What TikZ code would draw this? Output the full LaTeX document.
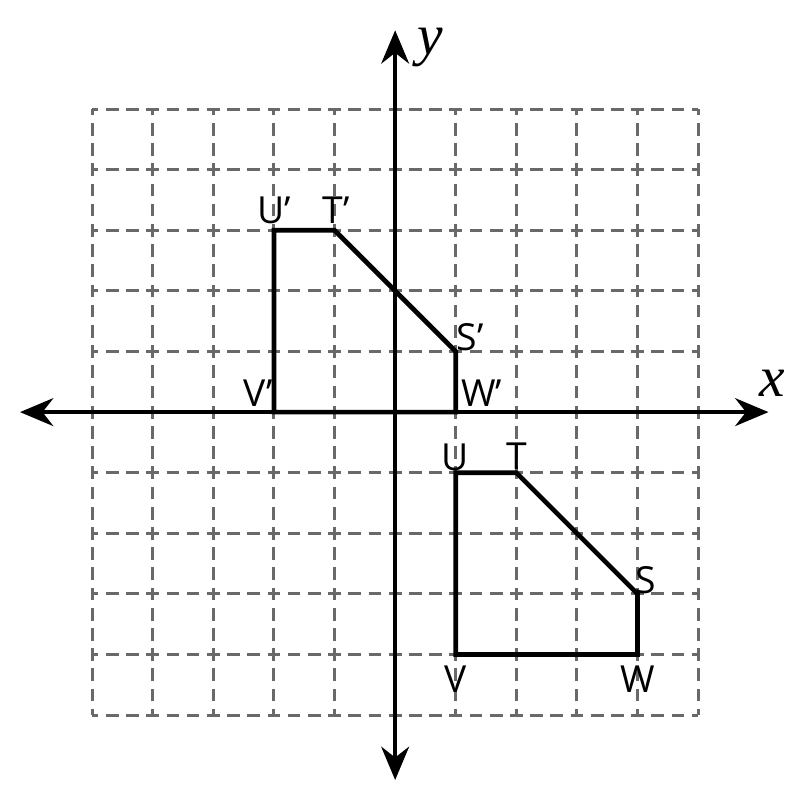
\documentclass[tikz,border=0pt]{standalone}
\usepackage{fontspec}
\setmainfont{Open Sans}
\newfontfamily\axfont{Liberation Serif}
\usetikzlibrary{arrows.meta,positioning}
\definecolor{gridgray}{RGB}{105,105,105}

\begin{document}
\begin{tikzpicture}[
  gridline/.style={gridgray,line width=1.4pt,dash pattern=on 0.21cm off 0.1233cm,dash phase=0.105cm},
  axis/.style={line width=1.7pt,{Stealth[length=0.55cm,width=0.46cm]}-{Stealth[length=0.55cm,width=0.46cm]}},
  figline/.style={line width=2.2pt,line join=miter},
  vlabel/.style={font=\fontsize{17.5}{20}\selectfont,inner sep=0pt},
  axlabel/.style={font=\axfont\itshape\fontsize{27}{30}\selectfont,inner sep=0pt}
]
  \useasboundingbox (-6.52,-6.40) rectangle (6.68,6.80);

  % Grid and axes
  \foreach \x in {-5,...,5} \draw[gridline] (\x,-5) -- (\x,5);
  \foreach \y in {-5,...,5} \draw[gridline] (-5,\y) -- (5,\y);
  \coordinate (xl) at (-6.19,0);
  \coordinate (xr) at (6.16,0);
  \coordinate (yb) at (0,-6.07);
  \coordinate (yt) at (0,6.30);
  \draw[axis] (xl) -- (xr);
  \draw[axis] (yb) -- (yt);
  \node[axlabel] (xlab) at (6.22,0.47) {x};
  \node[axlabel] (ylab) at (0.58,6.02) {y};

  % Image figure S'T'U'V'W'
  \coordinate (Up) at (-2,3);
  \coordinate (Tp) at (-1,3);
  \coordinate (Sp) at (1,1);
  \coordinate (Wp) at (1,0);
  \coordinate (Vp) at (-2,0);
  \draw[figline] (Up) -- (Tp) -- (Sp) -- (Wp) -- (Vp) -- cycle;

  % Original figure STUVW
  \coordinate (U) at (1,-1);
  \coordinate (T) at (2,-1);
  \coordinate (S) at (4,-3);
  \coordinate (W) at (4,-4);
  \coordinate (V) at (1,-4);
  \draw[figline] (U) -- (T) -- (S) -- (W) -- (V) -- cycle;

  % Labels
  \node[vlabel] (lUp) at (-2.0,3.33) {U’};
  \node[vlabel] (lTp) at (-0.97,3.33) {T’};
  \node[vlabel] (lSp) at (1.24,1.24) {S’};
  \node[vlabel] (lWp) at (1.43,0.31) {W’};
  \node[vlabel] (lVp) at (-2.26,0.31) {V’};
  \node[vlabel] (lU) at (0.99,-0.74) {U};
  \node[vlabel] (lT) at (2.0,-0.72) {T};
  \node[vlabel] (lS) at (4.13,-2.77) {S};
  \node[vlabel] (lW) at (4.0,-4.40) {W};
  \node[vlabel] (lV) at (1.0,-4.40) {V};
\end{tikzpicture}
\end{document}
